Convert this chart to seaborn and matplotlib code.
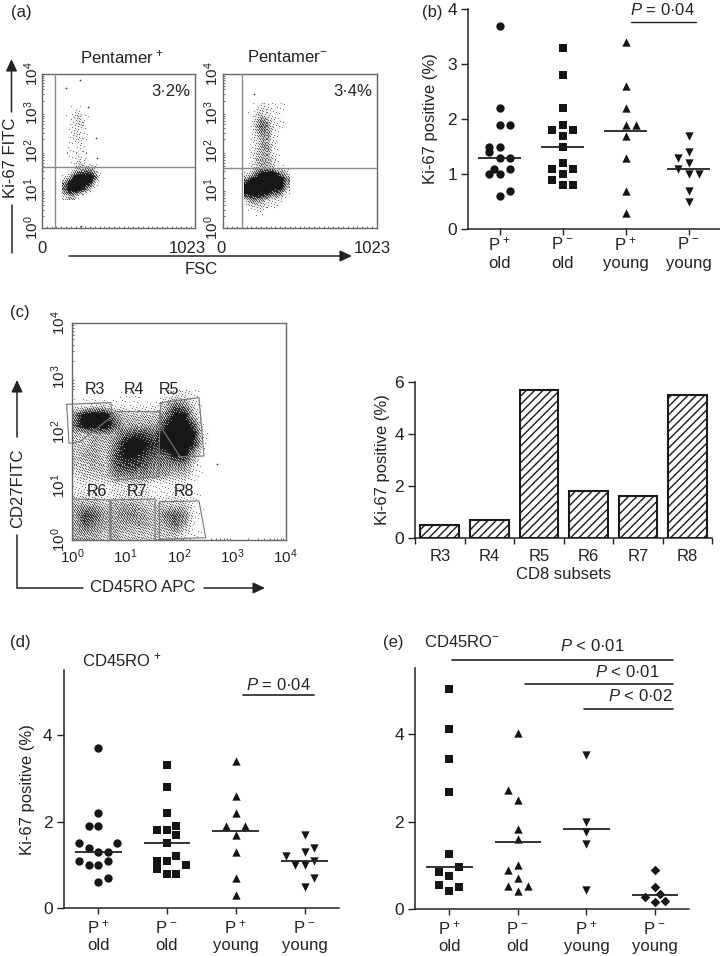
import numpy as np
import matplotlib
matplotlib.use('Agg')
import matplotlib.pyplot as plt
import seaborn as sns

# ###########################################
# Values
# ###########################################

group_top = ['P$^{\\,+}$', 'P$^{\\,-}$', 'P$^{\\,+}$', 'P$^{\\,-}$']
group_age = ['old', 'old', 'young', 'young']

# panel b: ki-67 values, sideways offset in swarm columns
b_vals = [[3.7, 2.2, 1.9, 1.9, 1.5, 1.5, 1.4, 1.3, 1.3, 1.1, 1.1, 1.0, 1.0, 0.7, 0.6],
          [3.3, 2.8, 2.2, 1.9, 1.8, 1.8, 1.7, 1.5, 1.2, 1.1, 1.1, 1.0, 0.9, 0.8, 0.8],
          [3.4, 2.6, 2.2, 1.9, 1.9, 1.7, 1.3, 0.7, 0.3],
          [1.7, 1.4, 1.3, 1.2, 1.1, 1.0, 1.0, 0.7, 0.5]]
b_cols = [[0, 0, 0, 1, -1, 0, -1, 0, 1, -0.5, 1, -1, 0, 1, 0],
          [0, 0, 0, 0, -1, 1, 0, 0, 0, -1, 1, 0, -1, 0, 1],
          [0, 0, 0, 0, 1, 0, 0, 0, 0],
          [0, 0, -1, 0, -1, 0, 1, 0, 0]]
b_lines = [1.3, 1.5, 1.78, 1.1]

# panel d
d_vals = [[3.7, 2.2, 1.9, 1.9, 1.5, 1.5, 1.4, 1.3, 1.3, 1.1, 1.1, 1.0, 1.0, 0.7, 0.6],
          [3.3, 2.8, 2.2, 1.9, 1.8, 1.8, 1.7, 1.5, 1.2, 1.1, 1.1, 1.0, 0.9, 0.8, 0.8],
          [3.4, 2.6, 2.2, 1.9, 1.9, 1.7, 1.3, 0.7, 0.3],
          [1.7, 1.4, 1.3, 1.2, 1.1, 1.0, 1.0, 0.7, 0.5]]
d_cols = [[0, 0, -1, 0, -2, 2, -1, 0, 1, -2, 1, -1, 0, 1, 0],
          [0, 0, 0, 1, -1, 0, 1, 0, 1, -1, 0, 2, -1, 0, 1],
          [0, 0, 0, -1, 1, 0, 0, 0, 0],
          [0, 1, 0, -2, 1, -1, 0, 1, 0]]
d_lines = [1.3, 1.5, 1.78, 1.1]

# panel e
e_vals = [[5.04, 4.13, 3.44, 2.67, 1.26, 0.96, 0.85, 0.75, 0.54, 0.5, 0.42],
          [4.02, 2.73, 2.5, 1.83, 1.6, 1.0, 0.89, 0.72, 0.53, 0.52, 0.41],
          [3.52, 2.0, 1.76, 1.49, 0.44],
          [0.89, 0.5, 0.34, 0.28, 0.18, 0.15]]
e_cols = [[0, 0, 0, 0, 0, 1, -1, 0, -1, 1, 0],
          [0, -1, 0, 0, 0, 0, -1, 0, -1, 1, 0],
          [0, 0, 0, 0, 0],
          [0, 0, 0.5, -1, 1, 0]]
e_lines = [0.97, 1.53, 1.84, 0.31]

# panel c bars
subsets = ['R3', 'R4', 'R5', 'R6', 'R7', 'R8']
subset_vals = [0.5, 0.7, 5.7, 1.8, 1.6, 5.5]

# flow cytometry: how dark each region of the dot cloud looks (0 to 9)
a1_grid = [[0, 0, 1, 1, 0, 0, 0, 0],
           [0, 1, 2, 3, 1, 0, 0, 0],
           [0, 1, 2, 3, 1, 0, 0, 0],
           [0, 1, 2, 2, 1, 0, 0, 0],
           [0, 1, 2, 2, 1, 0, 0, 0],
           [0, 1, 1, 2, 1, 0, 0, 0],
           [0, 1, 1, 1, 1, 0, 0, 0],
           [0, 1, 1, 2, 1, 0, 0, 0],
           [0, 0, 1, 3, 1, 1, 0, 0],
           [0, 0, 2, 4, 5, 5, 3, 0],
           [1, 3, 8, 9, 9, 9, 6, 1],
           [5, 9, 9, 9, 9, 8, 3, 0],
           [6, 9, 9, 9, 6, 2, 0, 0],
           [2, 4, 3, 1, 0, 0, 0, 0]]
a1_extent = [134, 402, 0.73, 3.15]
a1_dots_x = [251, 162, 307, 262, 362, 367]
a1_dots_y = [3.84, 3.63, 3.13, 0.06, 2.33, 1.81]

a2_grid = [[0, 0, 1, 2, 2, 1, 1, 1, 0],
           [0, 1, 2, 3, 2, 1, 1, 1, 0],
           [0, 1, 3, 5, 4, 2, 1, 1, 0],
           [0, 1, 4, 6, 5, 2, 1, 1, 0],
           [0, 1, 3, 5, 5, 2, 1, 0, 0],
           [0, 1, 2, 4, 4, 2, 1, 0, 0],
           [0, 1, 2, 4, 5, 2, 1, 0, 0],
           [0, 1, 3, 4, 4, 2, 1, 0, 0],
           [0, 1, 3, 4, 4, 3, 1, 0, 0],
           [0, 2, 3, 4, 4, 3, 1, 1, 0],
           [1, 3, 6, 8, 9, 9, 7, 5, 3],
           [6, 9, 9, 9, 9, 9, 9, 9, 5],
           [9, 9, 9, 9, 9, 9, 9, 8, 4],
           [8, 9, 9, 9, 8, 6, 6, 4, 1],
           [3, 5, 5, 4, 3, 2, 2, 1, 0],
           [1, 2, 2, 2, 2, 1, 1, 0, 0],
           [0, 0, 1, 1, 0, 0, 0, 0, 0]]
a2_extent = [143, 442, 0.29, 3.24]
a2_dots_x = [210]
a2_dots_y = [3.47]

c_grid = [[0, 0, 0, 0, 0, 1, 1, 0, 0, 1, 2, 2, 1, 0],
          [1, 1, 2, 2, 1, 1, 1, 1, 1, 3, 6, 5, 2, 0],
          [5, 9, 9, 9, 5, 3, 3, 3, 3, 5, 8, 8, 3, 0],
          [6, 9, 9, 9, 6, 4, 4, 4, 4, 7, 9, 9, 6, 0],
          [3, 3, 4, 4, 4, 6, 7, 7, 6, 9, 9, 9, 8, 1],
          [3, 3, 4, 3, 5, 8, 9, 8, 7, 9, 9, 9, 7, 1],
          [3, 4, 4, 3, 6, 8, 8, 7, 6, 6, 8, 8, 4, 0],
          [3, 3, 4, 3, 6, 7, 7, 6, 5, 5, 5, 5, 2, 0],
          [2, 3, 3, 3, 5, 5, 5, 5, 4, 4, 3, 3, 1, 0],
          [1, 2, 1, 1, 2, 2, 2, 2, 1, 1, 1, 1, 0, 0],
          [2, 2, 2, 1, 2, 2, 2, 2, 1, 1, 2, 1, 1, 0],
          [4, 4, 4, 3, 4, 4, 4, 3, 3, 3, 3, 3, 1, 0],
          [4, 7, 6, 4, 4, 5, 5, 4, 3, 5, 6, 5, 1, 0],
          [4, 6, 5, 4, 4, 4, 4, 4, 3, 4, 6, 4, 1, 0],
          [4, 4, 4, 3, 4, 3, 3, 3, 3, 3, 3, 2, 1, 0]]
c_extent = [-0.037, 2.58, 0.0, 2.76]

# ###########################################
# Style
# ###########################################

sns.set_theme(style='ticks')
plt.rcParams['font.family'] = ['Liberation Sans', 'DejaVu Sans']
plt.rcParams['mathtext.fontset'] = 'custom'
plt.rcParams['mathtext.rm'] = 'Liberation Sans'
plt.rcParams['mathtext.it'] = 'Liberation Sans:italic'
plt.rcParams['mathtext.default'] = 'regular'
plt.rcParams['hatch.linewidth'] = 1.0

INK = '#222222'
FS = 12
W, H = 720, 956

fig = plt.figure(figsize=(7.2, 9.56), dpi=100, facecolor='white')


def box(x0, y0, x1, y1):
    # axes from pixel edges, y counted from the top
    return fig.add_axes([x0 / W, 1 - y1 / H, (x1 - x0) / W, (y1 - y0) / H])


def put_ylabel(ax, text, px, py):
    pos = ax.get_position()
    fx = (px / W - pos.x0) / pos.width
    fy = ((1 - py / H) - pos.y0) / pos.height
    ax.set_ylabel(text, fontsize=FS, color=INK, va='center')
    ax.yaxis.set_label_coords(fx, fy)


def dot_panel(ax, vals, cols, lines, markers, col_step, ymax, yticks, half=0.34, top_px=19.5, age_pad=17.5):
    for i, (v, c) in enumerate(zip(vals, cols)):
        xs = [i + k * col_step for k in c]
        m = markers[i]
        sns.scatterplot(x=xs, y=v, marker=m, s=MARK_S[m], color='#151515',
                        linewidth=0, ax=ax, clip_on=False, zorder=3)
        ax.hlines(lines[i], i - half, i + half, color=INK, lw=1.3, zorder=4)
        ax.annotate(group_top[i], xy=(i, 0), xycoords=('data', 'axes fraction'),
                    xytext=(0, -top_px * 0.72), textcoords='offset points',
                    ha='center', va='center', fontsize=FS, color=INK)
    ax.set_xlim(-0.5, 3.5)
    ax.set_ylim(0, ymax)
    ax.set_xticks(range(4))
    ax.set_xticklabels(group_age, fontsize=FS, color=INK)
    ax.set_yticks(yticks)
    ax.tick_params(axis='y', labelsize=FS + 0.5, colors=INK, length=5, width=1, pad=3)
    ax.tick_params(axis='x', length=4, width=1, pad=age_pad)
    sns.despine(ax=ax)
    for s in ['left', 'bottom']:
        ax.spines[s].set_linewidth(1.1)
        ax.spines[s].set_color(INK)
    ax.patch.set_alpha(0)


def flow_panel(ax, grid, extent, xlim, ylim):
    # the cloud is printed like a halftone of the darkness grid
    g = np.array(grid, dtype=float)
    bbox = ax.get_window_extent()
    nx = int((extent[1] - extent[0]) / (xlim[1] - xlim[0]) * bbox.width)
    ny = int((extent[3] - extent[2]) / (ylim[1] - ylim[0]) * bbox.height)
    xi = np.linspace(-0.5, g.shape[1] - 0.5, nx)
    yi = np.linspace(-0.5, g.shape[0] - 0.5, ny)
    rows = np.array([np.interp(xi, np.arange(g.shape[1]), r) for r in g])
    fine = np.array([np.interp(yi, np.arange(g.shape[0]), c) for c in rows.T]).T
    tone = np.clip(fine / 8, 0, 1) ** 1.4
    X, Y = np.meshgrid(np.arange(nx), np.arange(ny))
    screen = (52.9829189 * ((0.06711056 * X + 0.00583715 * Y) % 1)) % 1
    dots = (tone > screen).astype(float)
    ax.imshow(0.45 * tone + 0.55 * dots, cmap='gray_r', vmin=0, vmax=1.1, extent=extent,
              origin='upper', aspect='auto', interpolation='nearest', zorder=1)
    ax.set_xlim(xlim)
    ax.set_ylim(ylim)
    for s in ax.spines.values():
        s.set_linewidth(1)
        s.set_color('#666666')


MARK_S = {'o': 36, 's': 32, '^': 36, 'v': 36, 'D': 24}

log_minor = [d + np.log10(k) for d in range(4) for k in range(2, 10)]
decades = [0, 1, 2, 3, 4]
dec_labels = ['$10^{%d}$' % d for d in decades]

# ###########################################
# Panel a
# ###########################################

for x0, x1, grid, ext, dx, dy, vx, hy in [
        (42, 195.5, a1_grid, a1_extent, a1_dots_x, a1_dots_y, 89, 1.58),
        (222.5, 376.5, a2_grid, a2_extent, a2_dots_x, a2_dots_y, 131, 1.55)]:
    ax = box(x0, 74, x1, 228)
    flow_panel(ax, grid, ext, (0, 1023), (0, 4))
    sns.scatterplot(x=dx, y=dy, s=1.5, color='#333333', linewidth=0, ax=ax, zorder=2)
    ax.axvline(vx, color='#8a8a8a', lw=1, zorder=3)
    ax.axhline(hy, color='#8a8a8a', lw=1, zorder=3)
    ax.set_xticks([])
    ax.set_xticks(range(0, 1024, 32), minor=True)
    ax.set_yticks(decades)
    ax.set_yticklabels(dec_labels, rotation=90, va='center', fontsize=FS - 1, color=INK)
    ax.set_yticks(log_minor, minor=True)
    ax.tick_params(which='both', axis='both', direction='in', length=1.5, width=0.6, color='#555555')
    ax.tick_params(axis='y', which='major', direction='out', length=0, pad=1)

# ###########################################
# Panel b
# ###########################################

ax = box(468, 9, 720, 229)
dot_panel(ax, b_vals, b_cols, b_lines, ['o', 's', '^', 'v'], 0.164, 4, range(5), top_px=15, age_pad=15.5)
put_ylabel(ax, 'Ki-67 positive (%)', 431, 119)
ax.plot([2.09, 3.12], [3.76, 3.76], color=INK, lw=1, clip_on=False)

# ###########################################
# Panel c
# ###########################################

ax = box(72, 323, 285.7, 540)
flow_panel(ax, c_grid, c_extent, (0, 4), (0, 4))
sns.scatterplot(x=[2.71], y=[1.40], s=1.5, color='#333333', linewidth=0, ax=ax, zorder=2)
ax.set_xticks(decades)
ax.set_xticklabels(dec_labels, fontsize=FS - 1, color=INK)
ax.set_yticks(decades)
ax.set_yticklabels(dec_labels, rotation=90, va='center', fontsize=FS - 1, color=INK)
ax.set_xticks(log_minor, minor=True)
ax.set_yticks(log_minor, minor=True)
ax.tick_params(which='both', direction='in', length=1.5, width=0.6, color='#555555')
ax.tick_params(which='major', length=0, pad=5)
ax.tick_params(axis='y', which='major', pad=3)

ax = box(415, 382.3, 712.3, 537.7)
sns.barplot(x=subsets, y=subset_vals, color='white', edgecolor='#1a1a1a', linewidth=1.5,
            hatch='////', width=0.78, saturation=1, ax=ax)
ax.set_xlim(-0.5, 5.5)
ax.set_ylim(0, 6)
ax.set_yticks([0, 2, 4, 6])
ax.set_xticks(np.arange(-0.5, 6), minor=True)
ax.tick_params(axis='x', which='major', length=0, labelsize=FS, colors=INK, pad=8)
ax.tick_params(axis='x', which='minor', length=4, width=1, color=INK)
ax.tick_params(axis='y', labelsize=FS + 0.5, colors=INK, length=5, width=1, pad=3)
sns.despine(ax=ax)
for s in ['left', 'bottom']:
    ax.spines[s].set_linewidth(1.1)
    ax.spines[s].set_color(INK)
put_ylabel(ax, 'Ki-67 positive (%)', 382, 460)
ax.set_xlabel('CD8 subsets', fontsize=FS, color=INK, labelpad=2)

# ###########################################
# Panels d and e
# ###########################################

ax = box(63.7, 670, 339, 908.3)
dot_panel(ax, d_vals, d_cols, d_lines, ['o', 's', '^', 'v'], 0.138, 5.5, [0, 2, 4])
put_ylabel(ax, 'Ki-67 positive (%)', 28, 790)
ax.plot([2.11, 3.14], [4.93, 4.93], color=INK, lw=1.2, clip_on=False)

ax = box(415, 668, 689.3, 909)
dot_panel(ax, e_vals, e_cols, e_lines, ['s', '^', 'v', 'D'], 0.146, 5.52, [0, 2, 4])
ax.plot([0.04, 3.26], [5.71, 5.71], color=INK, lw=1.2, clip_on=False)
ax.plot([1.1, 3.26], [5.16, 5.16], color=INK, lw=1.2, clip_on=False)
ax.plot([1.96, 3.26], [4.58, 4.58], color=INK, lw=1.2, clip_on=False)

# ###########################################
# Overlay in pixel coordinates: arrows, gates, labels
# ###########################################

ov = fig.add_axes([0, 0, 1, 1], zorder=10)
ov.set_xlim(0, W)
ov.set_ylim(H, 0)
ov.axis('off')
ov.patch.set_alpha(0)


def label(x, y, s, ha='center', size=FS, rot=0):
    ov.text(x, y, s, ha=ha, va='center', fontsize=size, color=INK, rotation=rot)


def arrow(x0, y0, x1, y1):
    ov.annotate('', xy=(x1, y1), xytext=(x0, y0),
                arrowprops=dict(arrowstyle='-|>,head_width=0.28,head_length=0.6', color=INK,
                                lw=1.1, shrinkA=0, shrinkB=0))


for s, x, y in [('(a)', 11, 12), ('(b)', 422, 12), ('(c)', 10, 313), ('(d)', 10, 643), ('(e)', 383, 643)]:
    label(x, y, s, ha='left')

label(122, 57, 'Pentamer$^{\\,+}$')
label(287, 57, 'Pentamer$^{-}$')
label(190, 91, '3·2%', ha='right')
label(372, 91, '3·4%', ha='right')
label(42, 248, '0')
label(187, 248, '1023')
label(221, 248, '0')
label(372, 248, '1023')
label(201, 270, 'FSC')
label(11, 158, 'Ki-67 FITC', rot=90)
ov.plot([11.5, 11.5], [253, 205], color=INK, lw=1.1)
arrow(11.5, 112, 11.5, 59)
arrow(69, 256, 352, 256)

gates = [[(200, 313), (333, 308), (335, 350), (240, 425), (207, 430), (200, 313)],
         [(345, 335), (480, 335), (476, 530), (345, 540)],
         [(482, 308), (597, 293), (612, 468), (540, 470), (482, 380), (482, 308)],
         [(216, 597), (330, 600), (330, 720)],
         [(333, 720), (333, 600), (465, 597), (465, 720)],
         [(478, 720), (478, 605), (597, 603), (617, 713), (478, 718)]]
for g in gates:
    gx = [p[0] / 3 for p in g]
    gy = [300 + p[1] / 3 for p in g]
    ov.plot(gx, gy, color='#777777', lw=0.8)

for s, x, y in [('R3', 95, 389), ('R4', 134, 389), ('R5', 169, 389),
                ('R6', 97, 491.5), ('R7', 137, 491.5), ('R8', 184, 491.5)]:
    label(x, y, s, size=11.5)

label(143, 588, 'CD45RO APC')
label(18, 488, 'CD27FITC', rot=90)
ov.plot([17, 17, 83], [535, 588, 588], color=INK, lw=1.1)
arrow(204, 588, 265, 588)
arrow(17, 437, 17, 380)

label(662, 10, '$\\mathit{P}$ = 0·04')
label(278, 685, '$\\mathit{P}$ = 0·04')
label(122, 660, 'CD45RO$^{\\,+}$')
label(424, 642, 'CD45RO$^{-}$', ha='left')
label(592.7, 646, '$\\mathit{P}$ < 0·01')
label(627.7, 672, '$\\mathit{P}$ < 0·01')
label(640, 696, '$\\mathit{P}$ < 0·02')

fig.savefig('out.png', dpi=100, facecolor='white')
